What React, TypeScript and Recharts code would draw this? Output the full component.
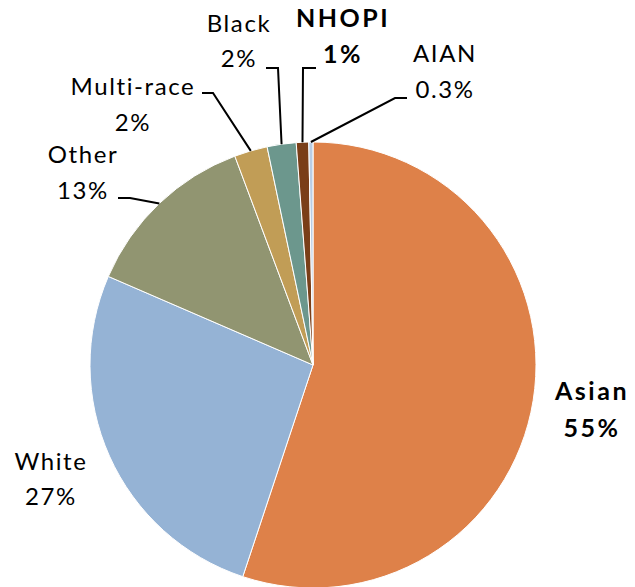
import { PieChart, Pie, Cell } from 'recharts';

const groups = ['Asian', 'White', 'Other', 'Multi-race', 'Black', 'NHOPI', 'AIAN'];
const shares = [55.1, 26.4, 12.8, 2.4, 2.1, 0.9, 0.3];
const shareLabels = ['55%', '27%', '13%', '2%', '2%', '1%', '0.3%'];

const COLORS = ['#DE8149', '#95B3D5', '#919571', '#C19D56', '#6C978D', '#7A3E18', '#B9CDE5'];

const data = groups.map((name, i) => ({ name, value: shares[i], label: shareLabels[i] }));

// where each label sits, plus the elbow of its leader line (if any)
const LAYOUT: Record<string, { x: number; y1: number; y2: number; bold?: boolean; elbow?: [number, number]; end?: [number, number] }> = {
  Asian: { x: 592, y1: 400, y2: 437, bold: true },
  White: { x: 51, y1: 470, y2: 505 },
  Other: { x: 83, y1: 163, y2: 199, elbow: [130, 198], end: [118, 198] },
  'Multi-race': { x: 133, y1: 95, y2: 131, elbow: [213, 93], end: [202, 93] },
  Black: { x: 239, y1: 32, y2: 67, elbow: [278, 68], end: [266, 68] },
  NHOPI: { x: 343, y1: 27, y2: 63, bold: true, elbow: [303, 68], end: [316, 68] },
  AIAN: { x: 445, y1: 62, y2: 98, elbow: [395, 98], end: [407, 98] },
};

const RAD = Math.PI / 180;

function renderLabel(props: any) {
  const { cx, cy, midAngle, outerRadius, name, payload } = props;
  const l = LAYOUT[name];
  if (!l) return null;
  const sx = cx + outerRadius * Math.cos(-midAngle * RAD);
  const sy = cy + outerRadius * Math.sin(-midAngle * RAD);
  const txt = {
    textAnchor: 'middle' as const,
    fontSize: l.bold ? 25 : 24,
    fontWeight: l.bold ? 700 : 400,
    letterSpacing: l.bold ? 2.5 : 1.6,
    fill: '#000',
  };
  return (
    <g>
      {l.elbow && l.end && (
        <polyline
          points={`${sx},${sy} ${l.elbow[0]},${l.elbow[1]} ${l.end[0]},${l.end[1]}`}
          fill="none"
          stroke="#000"
          strokeWidth={2}
        />
      )}
      <text x={l.x} y={l.y1} {...txt}>
        {name}
      </text>
      <text x={l.x} y={l.y2} {...txt}>
        {payload.label}
      </text>
    </g>
  );
}

export default function App() {
  return (
    <div style={{ position: 'absolute', left: 0, top: 0, width: 635, height: 587, background: '#fff', fontFamily: 'Lato, sans-serif' }}>
      <PieChart width={635} height={587} margin={{ top: 0, right: 0, bottom: 0, left: 0 }}>
        <Pie
          data={data}
          dataKey="value"
          nameKey="name"
          cx={313}
          cy={365}
          outerRadius={223}
          startAngle={90}
          endAngle={-270}
          stroke="#fff"
          strokeWidth={1}
          label={renderLabel}
          labelLine={false}
          isAnimationActive={false}
        >
          {data.map((d, i) => (
            <Cell key={d.name} fill={COLORS[i]} />
          ))}
        </Pie>
      </PieChart>
    </div>
  );
}
